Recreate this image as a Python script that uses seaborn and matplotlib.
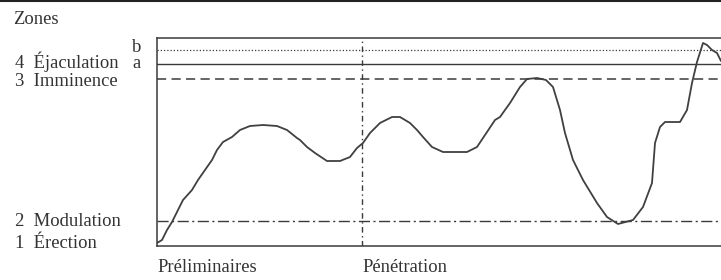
import numpy as np
import pandas as pd
import seaborn as sns
import matplotlib.pyplot as plt
from matplotlib.lines import Line2D

# ---- data (x = time units, y = arousal units) ----
time = [0, 5, 10, 15, 20, 26, 35, 41, 48, 55, 60, 66, 75, 83, 93, 106, 120, 130, 140,
        143, 150, 158, 170, 183, 193, 200, 206, 213, 223, 235, 243, 253, 260, 266, 275, 286,
        293, 310, 320, 328, 338, 343, 353, 363, 370, 380, 389, 396, 403, 408, 416, 426, 440,
        450, 461, 476, 486, 495, 498, 503, 508, 523, 530, 535, 540, 546, 550, 555, 560, 564]
arousal = [3, 6, 16, 24, 34, 46, 56, 66, 76, 86, 96, 104, 109, 116, 120, 121, 120, 116, 108,
           106, 99, 93, 85, 85, 89, 98, 103, 113, 123, 129, 129, 123, 116, 109, 99, 94,
           94, 94, 99, 111, 126, 129, 143, 159, 167, 168, 166, 159, 136, 113, 86, 66, 43,
           29, 22, 26, 39, 63, 103, 119, 124, 124, 136, 163, 184, 203, 201, 196, 193, 185]

zone_levels = {"top": 208, "b": 196, "a": 182, "imminence": 167, "modulation": 25}
penetration_start = 205

zone_labels = ["4  Éjaculation", "3  Imminence", "2  Modulation", "1  Érection"]
zone_label_y = [62, 81, 221, 244]
phase_labels = ["Préliminaires", "Pénétration"]

df = pd.DataFrame({"time": time, "arousal": arousal})

# ---- figure ----
sns.set_style("white")
plt.rcParams["font.family"] = ["Liberation Serif", "DejaVu Serif"]

W, H = 721, 280
fig = plt.figure(figsize=(W / 100, H / 100), dpi=100)
ax = fig.add_axes([157 / W, 1 - 246 / H, (W - 157) / W, (246 - 38) / H])

ink = "#3a3a3a"

ax.axhline(zone_levels["b"], color=ink, lw=0.9, dashes=(1, 1.6))
ax.axhline(zone_levels["a"], color=ink, lw=1.0)
ax.axhline(zone_levels["imminence"], color=ink, lw=1.1, dashes=(6, 3.5))
ax.axhline(zone_levels["modulation"], color=ink, lw=1.0, dashes=(8, 2.5, 1.5, 2.5))
ax.axvline(penetration_start, color=ink, lw=1.0, dashes=(4, 2.5, 1, 2.5))

sns.lineplot(data=df, x="time", y="arousal", ax=ax, color="#404040", lw=1.3)

ax.set_xlim(0, W - 157)
ax.set_ylim(0, zone_levels["top"])
ax.set_xticks([])
ax.set_yticks([])
ax.set_xlabel("")
ax.set_ylabel("")
for side in ["left", "top", "bottom"]:
    ax.spines[side].set_color(ink)
    ax.spines[side].set_linewidth(1.1)
ax.spines["right"].set_visible(False)

# texts, in pixel positions of the scan
def put(x, y, s, **kw):
    fig.text(x / W, 1 - y / H, s, va="center", ha="left", fontsize=13.4, color="#333333", **kw)

put(13, 20, "Zones")
for lab, y in zip(zone_labels, zone_label_y):
    put(15, y, lab)
put(132, 47, "b")
put(132, 64, "a")
put(157, 268, phase_labels[0])
put(362, 268, phase_labels[1])

# scan edge at the very top
fig.add_artist(Line2D([0, 1], [1 - 1 / H, 1 - 1 / H], color="#222222", lw=1.5,
                      transform=fig.transFigure))

fig.savefig("out.png", dpi=100)
